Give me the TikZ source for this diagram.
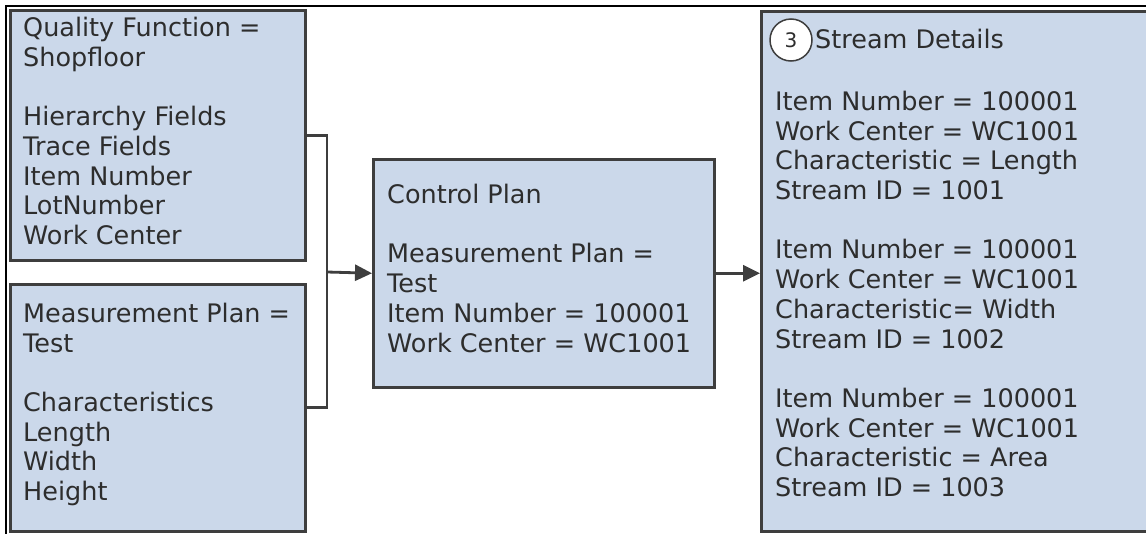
\documentclass[tikz,border=0pt]{standalone}
\usepackage{fontspec}
\setmainfont{DejaVu Sans}
\usetikzlibrary{arrows.meta}
\definecolor{boxfill}{RGB}{203,216,234}
\definecolor{boxline}{RGB}{62,62,62}
\definecolor{txt}{RGB}{45,45,45}
\begin{document}
\begin{tikzpicture}[x=1pt,y=-1pt,
  box/.style={draw=boxline, line width=2.5pt, fill=boxfill, anchor=north west, inner sep=0pt},
  lbl/.style={anchor=base west, align=left, inner sep=0pt, text=txt, font=\fontsize{25.5}{29.7}\selectfont},
  conn/.style={draw=boxline, line width=2.8pt},
  arr/.style={-{Triangle[length=17pt,width=16pt]}}]
\useasboundingbox (0,0) rectangle (1146,533);
\clip (0,0) rectangle (1146,533);
\draw[black, line width=1.5pt] (6,540) -- (6,6) -- (1150,6);
% boxes
\node[box, minimum width=295pt, minimum height=250pt] (qf) at (9,9) {};
\node[box, minimum width=295pt, minimum height=247pt] (mp) at (9,283) {};
\node[box, minimum width=341pt, minimum height=228pt] (cp) at (372,158) {};
\node[box, minimum width=420pt, minimum height=520pt] (sd) at (760,10) {};
% texts (base anchor = baseline of the last line)
\node[lbl] (qft) at (23,244.5) {Quality Function =\\Shopfloor\\[29.7pt]Hierarchy Fields\\Trace Fields\\Item Number\\LotNumber\\Work Center};
\node[lbl] (mpt) at (23,500.5) {Measurement Plan =\\Test\\[29.7pt]Characteristics\\Length\\Width\\Height};
\node[lbl] (cpt) at (387,352) {Control Plan\\[29.7pt]Measurement Plan =\\Test\\Item Number = 100001\\Work Center = WC1001};
\node[lbl] (sdh) at (815,48) {Stream Details};
\node[lbl] (sdt) at (775,496.5) {Item Number = 100001\\Work Center = WC1001\\Characteristic = Length\\Stream ID = 1001\\[29.7pt]Item Number = 100001\\Work Center = WC1001\\Characteristic= Width\\Stream ID = 1002\\[29.7pt]Item Number = 100001\\Work Center = WC1001\\Characteristic = Area\\Stream ID = 1003};
\node[draw=boxline, fill=white, circle, minimum size=42pt, line width=1.5pt, inner sep=0pt, text=txt, font=\fontsize{20}{22}\selectfont] (n3) at (791,40) {3};
% connectors
\coordinate (j) at (327,272);
\draw[conn] (qf.east) -| (j) |- (mp.east);
\draw[conn,arr] (j) -- (cp.west);
\draw[conn,arr] (cp.east) -- (sd.west |- cp.east);
\end{tikzpicture}
\end{document}
